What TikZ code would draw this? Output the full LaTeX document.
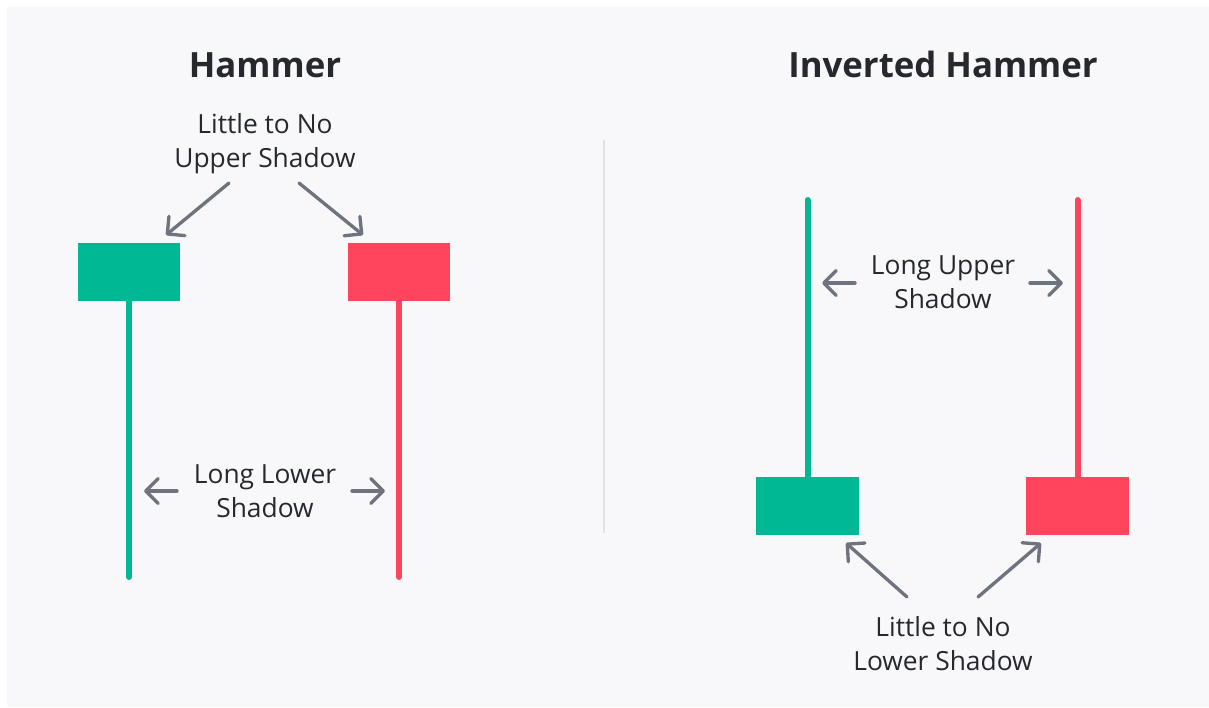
\documentclass[tikz,border=0pt]{standalone}
\usepackage{fontspec}
\setmainfont{Open Sans}
\usepackage{tikz}
\usetikzlibrary{arrows.meta}
\usetikzlibrary{positioning}
\pgfdeclarelayer{background1}
\pgfsetlayers{background1,main}

\begin{document}
\begin{tikzpicture}[x=0.02cm, y=-0.02cm,
	title/.style={line width = 0pt,align=center,font=\fontsize{19.8}{24}\selectfont\bfseries, text=textcolor, anchor=base},
	caption/.style={line width = 0pt,align=center,font=\fontsize{15}{19.3}\selectfont, text=textcolor, anchor=base, inner sep=0pt},
	body/.style={minimum width=2.06cm, minimum height=1.16cm, inner sep=0pt},
	wick/.style={line width=0.12cm, line cap=round},
	pointer/.style={draw=arrowcolor, line width=1.9pt, line cap=round, -{Straight Barb[length=2.5mm, width=5mm, round]}}]

	\definecolor{bullcolor}{RGB}{0,184,148}
	\definecolor{bearcolor}{RGB}{255,69,94}
	\definecolor{arrowcolor}{RGB}{110,115,125}
	\definecolor{textcolor}{RGB}{38,40,45}
	\definecolor{bgcolor}{RGB}{248,248,250}
	\definecolor{linecolor}{RGB}{226,226,230}

	\useasboundingbox (0,0) rectangle (1209,707);

	% titles
	\node(hammer) [title] at (265,77) {Hammer};
	\node(inverted) [title] at (943,77) {Inverted Hammer};

	% hammer candles
	\node(hgbox) [body, fill=bullcolor] at (129,272) {};
	\node(hrbox) [body, fill=bearcolor] at (399,272) {};
	\coordinate(hgend) at (129,577);
	\coordinate(hrend) at (399,577);
	\draw [wick, bullcolor] (hgbox.south) -- (hgend);
	\draw [wick, bearcolor] (hrbox.south) -- (hrend);

	% inverted hammer candles
	\node(igbox) [body, fill=bullcolor] at (807.5,506) {};
	\node(irbox) [body, fill=bearcolor] at (1077.5,506) {};
	\coordinate(igend) at (807.5,200);
	\coordinate(irend) at (1077.5,200);
	\draw [wick, bullcolor] (igbox.north) -- (igend);
	\draw [wick, bearcolor] (irbox.north) -- (irend);

	% captions (base = last line)
	\node(upper) [caption] at (265,167) {Little to No\\Upper Shadow};
	\node(lower) [caption] at (265,517) {Long Lower\\Shadow};
	\node(longup) [caption] at (943,308) {Long Upper\\Shadow};
	\node(nolow) [caption] at (943,670) {Little to No\\Lower Shadow};

	% pointers
	\coordinate(u1) at (229,183); \coordinate(u1t) at (166,235);
	\coordinate(u2) at (299,183); \coordinate(u2t) at (363,235);
	\draw [pointer] (u1) -- (u1t);
	\draw [pointer] (u2) -- (u2t);

	\coordinate(l1) at (177,491); \coordinate(l1t) at (144,491);
	\coordinate(l2) at (352,491); \coordinate(l2t) at (385,491);
	\draw [pointer] (l1) -- (l1t);
	\draw [pointer] (l2) -- (l2t);

	\coordinate(m1) at (855,283); \coordinate(m1t) at (822,283);
	\coordinate(m2) at (1030,283); \coordinate(m2t) at (1063,283);
	\draw [pointer] (m1) -- (m1t);
	\draw [pointer] (m2) -- (m2t);

	\coordinate(b1) at (907,597); \coordinate(b1t) at (846,543);
	\coordinate(b2) at (978,597); \coordinate(b2t) at (1041,543);
	\draw [pointer] (b1) -- (b1t);
	\draw [pointer] (b2) -- (b2t);

	\begin{pgfonlayer}{background1}
		\fill [white] (0,0) rectangle (1209,707);
		\fill [bgcolor] (7,7) rectangle (1209,707);
		\draw [linecolor, line width=1.2pt] (604,140) -- (604,533);
	\end{pgfonlayer}

\end{tikzpicture}
\end{document}
